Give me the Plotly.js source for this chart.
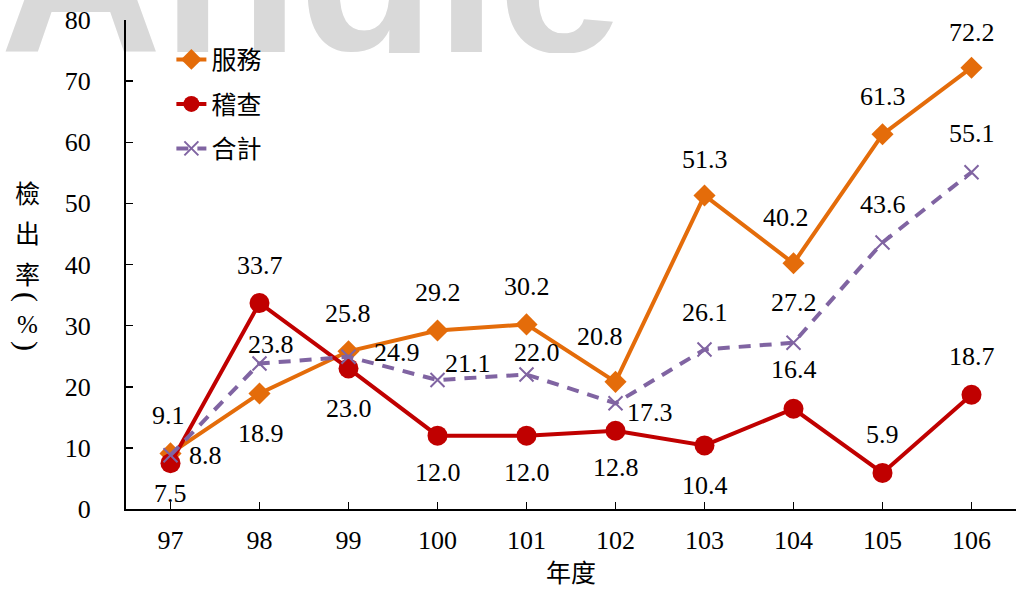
<!DOCTYPE html>
<html>
<head>
<meta charset="utf-8">
<script src="https://cdn.plot.ly/plotly-3.0.1.min.js"></script>
<style>
  html, body { margin: 0; padding: 0; background: #fff; }
  #chart { width: 1018px; height: 589px; }
</style>
</head>
<body>
<div id="chart"></div>
<script>
// ---- data ----
const categories = ['97', '98', '99', '100', '101', '102', '103', '104', '105', '106'];
const serviceName = '服務';
const serviceValues = [9.1, 18.9, 25.8, 29.2, 30.2, 20.8, 51.3, 40.2, 61.3, 72.2];
const inspectName = '稽查';
const inspectValues = [7.5, 33.7, 23.0, 12.0, 12.0, 12.8, 10.4, 16.4, 5.9, 18.7];
const totalName = '合計';
const totalValues = [8.8, 23.8, 24.9, 21.1, 22.0, 17.3, 26.1, 27.2, 43.6, 55.1];
const yTickValues = [0, 10, 20, 30, 40, 50, 60, 70, 80];
const xTitle = '年度';
const yTitleWord = ['檢', '出', '率'];
const yTitleUnit = ['(', '%', ')'];
const watermarkText = 'Angle';

// ---- label placement (pixel offsets: dx right, dy down) ----
const serviceOffsets = [[-2,-38],[1,40],[-1,-38],[0,-38],[0,-38],[-16,-45],[0,-36],[-8,-46],[0,-38],[0,-35]];
const inspectOffsets = [[0,30],[0,-38],[0,40],[0,37],[0,37],[0,37],[0,40],[0,-39],[0,-38],[0,-38]];
const totalOffsets   = [[35,0],[11,-19],[48,-4],[30,-17],[10,-22],[34,9],[0,-37],[0,-40],[0,-38],[0,-39]];

const SERIF = '"Liberation Serif", "Times New Roman", "Noto Sans CJK TC", serif';
const CJK = '"Noto Sans CJK TC", sans-serif';
const ORANGE = '#E46C0A', RED = '#C00000', PURPLE = '#8064A2';

const traces = [
  {
    x: categories, y: serviceValues, name: serviceName, type: 'scatter', mode: 'lines+markers',
    line: { color: ORANGE, width: 4 },
    marker: { symbol: 'diamond', size: 17, color: ORANGE },
    legendgroup: 'a', hoverinfo: 'x+y'
  },
  {
    x: categories, y: inspectValues, name: inspectName, type: 'scatter', mode: 'lines+markers',
    line: { color: RED, width: 4 },
    marker: { symbol: 'circle', size: 20, color: RED },
    legendgroup: 'b', hoverinfo: 'x+y'
  },
  {
    x: categories, y: totalValues, name: totalName, type: 'scatter', mode: 'lines+markers',
    line: { color: PURPLE, width: 4, dash: '12px,9px' },
    marker: { symbol: 'x-thin-open', size: 14, color: PURPLE, line: { color: PURPLE, width: 2 } },
    legendgroup: 'c', hoverinfo: 'x+y'
  }
];

const annotations = [];
function addLabels(values, offsets) {
  values.forEach((v, i) => {
    annotations.push({
      x: i, y: v, xref: 'x', yref: 'y',
      text: v.toFixed(1), showarrow: false,
      xanchor: 'center', yanchor: 'middle',
      xshift: offsets[i][0], yshift: -offsets[i][1],
      font: { family: SERIF, size: 26, color: '#000' }
    });
  });
}
addLabels(serviceValues, serviceOffsets);
addLabels(inspectValues, inspectOffsets);
addLabels(totalValues, totalOffsets);

const plotTop = 20, plotH = 489, plotL = 126, plotW = 890;
const px2x = px => (px - plotL) / plotW;
const py2y = py => (plotTop + plotH - py) / plotH;

// vertical y-axis title: the word as one stacked text block
annotations.push({
  xref: 'paper', yref: 'paper', x: px2x(27), y: py2y(232),
  text: yTitleWord.map(c => '<span style="font-size:25px">' + c + '</span>').join('<br>'),
  showarrow: false, xanchor: 'center', yanchor: 'middle', align: 'center',
  font: { family: CJK, size: 31, color: '#000' }
});
// unit with sideways parentheses
const unitY = [297, 324, 346];
yTitleUnit.forEach((ch, i) => {
  const isParen = ch !== '%';
  annotations.push({
    xref: 'paper', yref: 'paper', x: px2x(27), y: py2y(unitY[i]),
    text: ch, showarrow: false, xanchor: 'center', yanchor: 'middle',
    textangle: isParen ? 90 : 0,
    font: { family: SERIF, size: isParen ? 30 : 25, color: '#000' }
  });
});

// watermark
const wmSvg = "<svg xmlns='http://www.w3.org/2000/svg' width='640' height='53' viewBox='0 0 640 53'>" +
  "<text x='0' y='52' font-family='Liberation Sans, Arial, sans-serif' font-weight='bold' font-size='224' fill='#d9d9d9'>" +
  watermarkText + "</text></svg>";

const layout = {
  width: 1018, height: 589,
  margin: { l: plotL, r: 2, t: plotTop, b: 80 },
  paper_bgcolor: 'rgba(0,0,0,0)', plot_bgcolor: 'rgba(0,0,0,0)',
  showlegend: true,
  legend: {
    x: 0.051, y: 0.966, xanchor: 'left', yanchor: 'top',
    bgcolor: 'rgba(0,0,0,0)',
    font: { family: CJK, size: 25, color: '#000' },
    traceorder: 'grouped', tracegroupgap: 9
  },
  xaxis: {
    type: 'category', range: [-0.5, 9.5],
    showline: true, linecolor: '#000', linewidth: 2,
    ticks: 'inside', ticklen: 7, tickwidth: 1.5, tickcolor: '#000',
    showgrid: false, zeroline: false, fixedrange: true,
    tickfont: { family: SERIF, size: 26, color: '#000' },
    ticklabelstandoff: 7,
    title: { text: xTitle, font: { family: CJK, size: 25, color: '#000' }, standoff: 6 }
  },
  yaxis: {
    range: [0, 80], tickvals: yTickValues,
    showline: true, linecolor: '#000', linewidth: 2,
    ticks: 'inside', ticklen: 7, tickwidth: 1.5, tickcolor: '#000',
    showgrid: false, zeroline: false, fixedrange: true,
    tickfont: { family: SERIF, size: 26, color: '#000' },
    ticklabelstandoff: 28
  },
  annotations: annotations,
  images: [{
    source: 'data:image/svg+xml;charset=utf-8,' + encodeURIComponent(wmSvg),
    xref: 'paper', yref: 'paper',
    x: -plotL / plotW, y: (plotH + plotTop) / plotH,
    sizex: 640 / plotW, sizey: 53 / plotH,
    xanchor: 'left', yanchor: 'top', sizing: 'stretch', layer: 'below'
  }]
};

Plotly.newPlot('chart', traces, layout, { displayModeBar: false, staticPlot: true });
</script>
</body>
</html>
